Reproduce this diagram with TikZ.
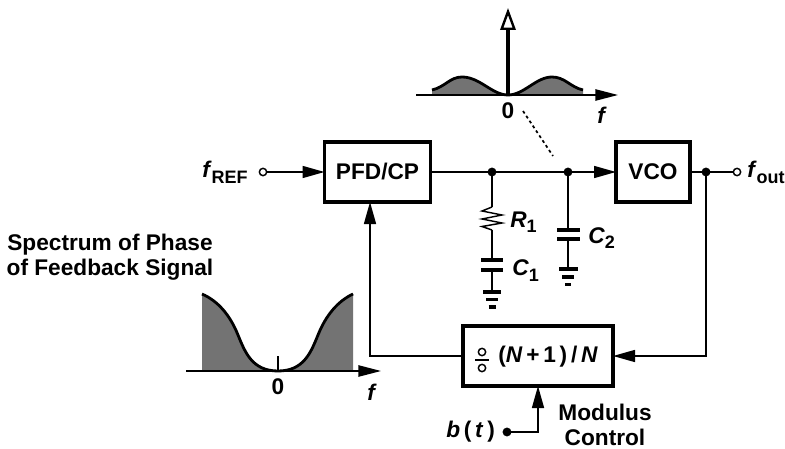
\documentclass[tikz,border=0pt]{standalone}
\usepackage{fontspec}
\setmainfont{Liberation Sans}[BoldFont={Liberation Sans Bold},ItalicFont={Liberation Sans Italic},BoldItalicFont={Liberation Sans Bold Italic}]
\usetikzlibrary{arrows.meta,calc}
\definecolor{specgray}{gray}{0.45}
\newcommand{\lbl}{\fontsize{17}{18.75}\selectfont\bfseries}
\newcommand{\sublbl}[2]{\textit{#1}\raisebox{-4.5pt}{\fontsize{13.5}{15}\selectfont\textup{#2}}}
\tikzset{
  wire/.style={line width=1.1pt},
  thick wire/.style={line width=2.1pt},
  stem wire/.style={line width=2.5pt},
  flow/.style={wire,-{Triangle[length=16.5pt,width=9pt]}},
  axisline/.style={wire,-{Triangle[length=17pt,width=8.5pt]}},
  block/.style={draw,line width=2.5pt,inner sep=0pt,outer sep=0pt,font=\lbl},
  dot/.style={circle,fill=black,inner sep=0pt,minimum size=6.7pt,outer sep=0pt},
  port/.style={circle,draw,fill=white,line width=1.1pt,inner sep=0pt,minimum size=5.5pt,outer sep=0pt},
  txt/.style={inner sep=0pt,font=\lbl},
  plate/.style={line width=2.3pt},
}
\begin{document}
\begin{tikzpicture}[x=0.75pt,y=-0.75pt]
\useasboundingbox (0,0) rectangle (785,449);

% blocks
\node[block,minimum width=79.5pt,minimum height=45pt] (pfd) at (377.5,172) {PFD/CP};
\node[block,minimum width=55.5pt,minimum height=45pt] (vco) at (653,172) {VCO};
\node[block,minimum width=112.5pt,minimum height=45pt] (div) at (538,356) {};
\node[txt,anchor=west] (divtxt) at (498,357) {(\textit{N}\,+\,1\,)\,/\,\textit{N}};
\draw[line width=1.3pt] (475,360) coordinate (divl) -- (489,360) coordinate (divr);
\node[port,minimum size=5.5pt] (divtop) at (482,352) {};
\node[port,minimum size=5.5pt] (divbot) at (482,368) {};

% ports and junctions
\node[port] (fref) at (263,172) {};
\node[port] (fout) at (737,172) {};
\node[dot] (j1) at (492,172) {};
\node[dot] (j2) at (568,172) {};
\node[dot] (j3) at (706,172) {};
\node[dot] (bt) at (507,432) {};
\coordinate (fbcorner) at (706,356);
\coordinate (lcorner) at (370,356);
\coordinate (mcorner) at (538,432);

\node[txt,anchor=base west] (freflbl) at (202,178) {\sublbl{f}{REF}};
\node[txt,anchor=base west] (foutlbl) at (747,178) {\sublbl{f}{out}};

% main wires
\draw[flow] (fref) -- (pfd.west);
\draw[wire] (pfd.east) -- (j1);
\draw[wire] (j1) -- (j2);
\draw[flow] (j2) -- (vco.west);
\draw[wire] (vco.east) -- (j3);
\draw[wire] (j3) -- (fout);
\draw[flow] (j3) -- (fbcorner) -- (div.east);
\draw[flow] (div.west) -- (lcorner) -- (pfd.south -| lcorner);
\draw[flow] (bt) -- (mcorner) -- (div.south);

% R1 C1 ground
\coordinate (r1t) at (492,207);
\coordinate (r1b) at (492,230);
\coordinate (c1t) at (492,260);
\coordinate (c1b) at (492,270);
\coordinate (g1) at (492,292);
\draw[wire] (j1) -- (r1t);
\draw[wire] (r1t) -- (482,211) -- (502,215) -- (482,219) -- (502,223) -- (482,226.5) -- (r1b);
\draw[wire] (r1b) -- (c1t);
\draw[plate] (481,260) -- (503,260);
\draw[plate] (481,270) -- (503,270);
\draw[wire] (c1b) -- (g1);
\draw[plate] (483,292) -- (501,292);
\draw[plate] (486,299.5) -- (498,299.5);
\draw[plate] (488.5,307) -- (495.5,307);
\node[txt,anchor=base west] (r1lbl) at (510,227) {\sublbl{R}{1}};
\node[txt,anchor=base west] (c1lbl) at (512,275) {\sublbl{C}{1}};

% C2 ground
\coordinate (c2t) at (568,230);
\coordinate (c2b) at (568,239);
\coordinate (g2) at (568,269);
\draw[wire] (j2) -- (c2t);
\draw[plate] (557,230) -- (580,230);
\draw[plate] (557,239) -- (580,239);
\draw[wire] (c2b) -- (g2);
\draw[plate] (559,269) -- (578,269);
\draw[plate] (562,277) -- (574,277);
\draw[plate] (565,284.5) -- (571,284.5);
\node[txt,anchor=base west] (c2lbl) at (588,243) {\sublbl{C}{2}};

% top spectrum
\fill[specgray] (432,90) .. controls (445,87) and (450,77) .. (462,77)
  .. controls (480,77) and (492,95) .. (508,95)
  .. controls (524,95) and (536,77) .. (552,77)
  .. controls (565,77) and (570,87) .. (583,90) -- (583,95) -- (432,95) -- cycle;
\draw[thick wire] (432,90) .. controls (445,87) and (450,77) .. (462,77)
  .. controls (480,77) and (492,95) .. (508,95)
  .. controls (524,95) and (536,77) .. (552,77)
  .. controls (565,77) and (570,87) .. (583,90);
\coordinate (ta0) at (416,95);
\coordinate (ta1) at (618,95);
\coordinate (tz) at (508,95);
\coordinate (tp) at (508,8);
\draw[axisline] (ta0) -- (ta1);
\draw[stem wire,-{Triangle[open,length=16.5pt,width=11.5pt,line width=1.8pt]}] (tz) -- (tp);
\node[txt] (tzero) at (508,111) {0};
\node[txt] (tf) at (602,115) {\textit{f}};
\coordinate (dota) at (523,111);
\coordinate (dotb) at (553,156);
\draw[line width=1.3pt,dash pattern=on 2.2pt off 2.2pt] (dota) -- (dotb);

% bottom spectrum
\fill[specgray] (202,294) .. controls (218,301) and (230,315) .. (238,335)
  .. controls (245,352) and (252,371) .. (278,371)
  .. controls (304,371) and (311,352) .. (318,335)
  .. controls (326,315) and (338,301) .. (353,294) -- (353,371) -- (202,371) -- cycle;
\draw[thick wire] (202,294) .. controls (218,301) and (230,315) .. (238,335)
  .. controls (245,352) and (252,371) .. (278,371)
  .. controls (304,371) and (311,352) .. (318,335)
  .. controls (326,315) and (338,301) .. (353,294);
\coordinate (ba0) at (186,371);
\coordinate (ba1) at (381,371);
\coordinate (bz) at (278,371);
\coordinate (bt0) at (278,356);
\draw[axisline] (ba0) -- (ba1);
\draw[wire] (bz) -- (bt0);
\node[txt] (bzero) at (278,387) {0};
\node[txt] (bf) at (372,392) {\textit{f}};

% texts
\node[txt,align=center] (spec) at (110,257) {Spectrum of Phase\\of Feedback Signal};
\node[txt,align=center] (mod) at (605,425) {Modulus\\Control};
\node[txt,anchor=west] (btl) at (446,432) {\textit{b}\,(\,\textit{t}\,)};
\end{tikzpicture}
\end{document}
